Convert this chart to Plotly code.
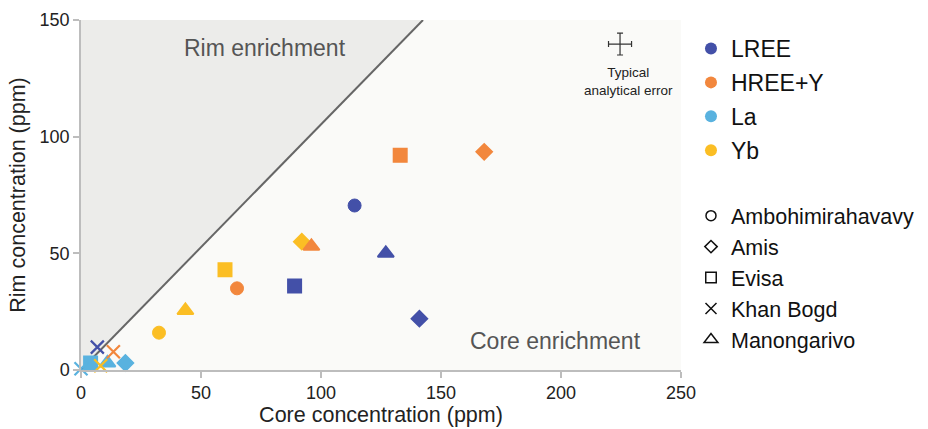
import plotly.graph_objects as go

# ---- data ----
localities = ["Ambohimirahavavy", "Amis", "Evisa", "Khan Bogd", "Manongarivo"]
loc_symbols = ["circle", "diamond", "square", "x-thin", "triangle-up"]
loc_symbols_open = ["circle-open", "diamond-open", "square-open", "x-thin-open", "triangle-up-open"]

elements = ["LREE", "HREE+Y", "La", "Yb"]
el_colors = ["#4350a8", "#f2873d", "#59b2df", "#fbbe24"]

# core (x) and rim (y) per element, per locality (None = not visible)
lree_core = [114, 141, 89, 6.8, 127]
lree_rim = [70.5, 22, 36, 9.8, 50]
hree_core = [65, 168, 133, 13.5, 96]
hree_rim = [35, 93.5, 92, 7.8, 53]
la_core = [None, 18.5, 4, 0, 11]
la_rim = [None, 3, 3, 0.5, 3]
yb_core = [32.5, 92, 60, 8.2, 43.5]
yb_rim = [16, 55, 43, 1.8, 25.5]

# divider line between rim and core enrichment fields
divider_x = [0, 142.5]
divider_y = [0, 150]

# typical analytical error cross
err_x = [224.6]
err_y = [139.7]
err_dx = [4.8]
err_dy = [4.7]

fig = go.Figure()

# shaded rim-enrichment field
fig.add_trace(go.Scatter(x=[divider_x[0], 0, divider_x[1]], y=[divider_y[0], divider_y[1], divider_y[1]],
                         fill="toself", fillcolor="#ececea", line=dict(width=0),
                         mode="lines", showlegend=False, hoverinfo="skip"))
fig.add_trace(go.Scatter(x=divider_x, y=divider_y, mode="lines",
                         line=dict(color="#666666", width=2), showlegend=False, hoverinfo="skip"))

# error cross
fig.add_trace(go.Scatter(x=err_x, y=err_y, mode="markers", marker=dict(size=1, color="rgba(0,0,0,0)"),
                         error_x=dict(type="data", array=err_dx, color="#333", thickness=1.2, width=3),
                         error_y=dict(type="data", array=err_dy, color="#333", thickness=1.2, width=3),
                         showlegend=False, hoverinfo="skip"))

size_table = {"circle": 13, "square": 13.5, "diamond": 12.5, "x-thin": 13, "triangle-up": 14}
line_table = {"circle": 1, "square": 1.5, "diamond": 1.5, "x-thin": 2.2, "triangle-up": 2}

series = [
    ("La", la_core, la_rim, el_colors[2]),
    ("Yb", yb_core, yb_rim, el_colors[3]),
    ("HREE+Y", hree_core, hree_rim, el_colors[1]),
    ("LREE", lree_core, lree_rim, el_colors[0]),
]
for name, xs, ys, col in series:
    for sym, x, y in zip(loc_symbols, xs, ys):
        if x is None:
            continue
        fig.add_trace(go.Scatter(
            x=[x], y=[y], mode="markers", name=name, showlegend=False,
            cliponaxis=False,
            marker=dict(symbol=sym, size=size_table[sym], color=col, opacity=1,
                        line=dict(color=col, width=line_table[sym])),
        ))

# legend 1: elements
for i, (el, col) in enumerate(zip(elements, el_colors)):
    fig.add_trace(go.Scatter(x=[None], y=[None], mode="markers", name=el, legend="legend",
                             legendgroup="e" + str(i),
                             marker=dict(symbol="circle", size=14, color=col)))
# legend 2: localities
leg2_sizes = {"circle-open": 10, "diamond-open": 9.5, "square-open": 10.5, "x-thin-open": 11, "triangle-up-open": 12}
for i, (loc, sym) in enumerate(zip(localities, loc_symbols_open)):
    fig.add_trace(go.Scatter(x=[None], y=[None], mode="markers", name=loc, legend="legend2",
                             legendgroup="l" + str(i),
                             marker=dict(symbol=sym, size=leg2_sizes[sym], color="#111",
                                         line=dict(color="#111", width=1.5))))

font_family = "Liberation Sans, Arial, sans-serif"

fig.add_annotation(x=0.307, y=0.92, xref="paper", yref="paper", text="Rim enrichment",
                   xanchor="center", yanchor="middle",
                   showarrow=False, font=dict(size=23, color="#555", family=font_family))
fig.add_annotation(x=0.937, y=0.083, xref="paper", yref="paper", text="Core enrichment",
                   xanchor="right", yanchor="middle",
                   showarrow=False, font=dict(size=23, color="#555", family=font_family))
fig.add_annotation(x=0.913, y=0.823, xref="paper", yref="paper", text="Typical<br>analytical error",
                   xanchor="center", yanchor="middle",
                   showarrow=False, font=dict(size=13.5, color="#222", family=font_family))

axis_common = dict(showgrid=False, zeroline=False, showline=True, linecolor="#bdbdbd", linewidth=1.5,
                   ticks="outside", tickcolor="#bdbdbd", ticklen=6, tickwidth=1.5, automargin=False,
                   tickfont=dict(size=18, color="#222", family=font_family),
                   title_font=dict(size=21.5, color="#222", family=font_family))

fig.update_layout(
    width=928, height=429,
    margin=dict(l=81, r=247, t=20, b=59),
    paper_bgcolor="white", plot_bgcolor="#fafaf8",
    font=dict(family=font_family, color="#222"),
    xaxis=dict(range=[0, 250], tickvals=[0, 50, 100, 150, 200, 250],
               title=dict(text="Core concentration (ppm)", standoff=1), **axis_common),
    yaxis=dict(range=[0, 150], tickvals=[0, 50, 100, 150],
               title=dict(text="Rim concentration (ppm)", standoff=8), **axis_common),
    legend=dict(x=0.7446, y=0.937, xref="container", yref="container", xanchor="left", yanchor="top",
                font=dict(size=23, color="#111"),
                tracegroupgap=1, itemsizing="constant", itemwidth=30, bgcolor="rgba(0,0,0,0)"),
    legend2=dict(x=0.7446, y=0.545, xref="container", yref="container", xanchor="left", yanchor="top",
                 font=dict(size=21.5, color="#111"),
                 tracegroupgap=0, itemsizing="trace", itemwidth=30, bgcolor="rgba(0,0,0,0)"),
    showlegend=True,
)

fig.write_html("out.html", config={"displayModeBar": False},
               post_script="document.body.style.margin='0';")
